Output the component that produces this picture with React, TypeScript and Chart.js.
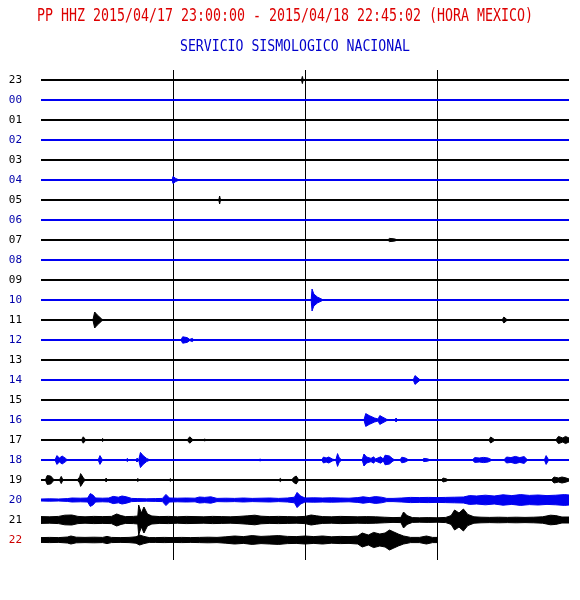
import React, { useEffect, useRef } from "react";
import { Chart, registerables } from "chart.js";

Chart.register(...registerables);

const TITLE_TEXT = "PP HHZ 2015/04/17 23:00:00 - 2015/04/18 22:45:02 (HORA MEXICO)";
const SUBTITLE_TEXT = "SERVICIO SISMOLOGICO NACIONAL";

const ROW_LABELS = ["23", "00", "01", "02", "03", "04", "05", "06", "07", "08", "09", "10", "11", "12", "13", "14", "15", "16", "17", "18", "19", "20", "21", "22"];
// minutes recorded in each hourly row
const ROW_END_MINUTES = [60, 60, 60, 60, 60, 60, 60, 60, 60, 60, 60, 60, 60, 60, 60, 60, 60, 60, 60, 60, 60, 60, 60, 45];
const X_TICKS_MINUTES = [0, 15, 30, 45, 60];

// envelope samples per row: [minute, amplitude in row units]
const TRACE_23: [number, number][] = [[29.6, 0], [29.7, 0.18], [29.8, 0]];
const TRACE_00: [number, number][] = [];
const TRACE_01: [number, number][] = [];
const TRACE_02: [number, number][] = [];
const TRACE_03: [number, number][] = [];
const TRACE_04: [number, number][] = [[14.9, 0], [15.0, 0.18], [15.3, 0.08], [15.7, 0]];
const TRACE_05: [number, number][] = [[20.2, 0], [20.3, 0.2], [20.4, 0]];
const TRACE_06: [number, number][] = [];
const TRACE_07: [number, number][] = [[39.4, 0], [39.6, 0.08], [40.1, 0.06], [40.6, 0]];
const TRACE_08: [number, number][] = [];
const TRACE_09: [number, number][] = [];
const TRACE_10: [number, number][] = [[30.7, 0], [30.8, 0.55], [31.0, 0.3], [31.4, 0.15], [32.1, 0]];
const TRACE_11: [number, number][] = [[5.9, 0], [6.1, 0.4], [6.4, 0.25], [6.9, 0.05], [7.1, 0], [52.4, 0], [52.6, 0.15], [53.0, 0]];
const TRACE_12: [number, number][] = [[15.9, 0], [16.1, 0.16], [16.6, 0.12], [16.9, 0.03], [17.2, 0.08], [17.4, 0]];
const TRACE_13: [number, number][] = [];
const TRACE_14: [number, number][] = [[42.3, 0], [42.5, 0.22], [43.1, 0]];
const TRACE_15: [number, number][] = [];
const TRACE_16: [number, number][] = [[36.7, 0], [36.9, 0.32], [37.3, 0.22], [37.9, 0.1], [38.3, 0.05], [38.5, 0.22], [38.8, 0.15], [39.3, 0.03], [40.2, 0], [40.35, 0.1], [40.5, 0]];
const TRACE_17: [number, number][] = [[4.6, 0], [4.8, 0.16], [5.1, 0], [6.9, 0], [7.0, 0.08], [7.1, 0], [16.6, 0], [16.9, 0.16], [17.3, 0], [18.5, 0], [18.6, 0.06], [18.7, 0], [50.9, 0], [51.1, 0.15], [51.6, 0], [58.5, 0], [58.8, 0.18], [59.3, 0.1], [59.6, 0.18], [60, 0.1]];
const TRACE_18: [number, number][] = [
  [1.6, 0], [1.8, 0.22], [2.1, 0.1], [2.4, 0.2], [2.8, 0.08], [3.0, 0],
  [6.5, 0], [6.7, 0.22], [7.0, 0],
  [9.7, 0], [9.8, 0.08], [10.0, 0], [10.8, 0], [10.9, 0.1], [11.1, 0],
  [11.3, 0.38], [11.6, 0.22], [12.0, 0.08], [12.4, 0],
  [24.8, 0], [24.9, 0.06], [25.0, 0],
  [31.9, 0], [32.1, 0.15], [32.4, 0.1], [32.7, 0.15], [33.1, 0.05], [33.5, 0], [33.7, 0.32], [33.9, 0.1], [34.2, 0],
  [36.5, 0], [36.7, 0.3], [37.0, 0.15], [37.5, 0.08], [37.8, 0.16], [38.0, 0.05], [38.6, 0.16], [38.9, 0.05], [39.1, 0.24], [39.6, 0.2], [40.0, 0.05], [40.3, 0],
  [40.8, 0], [41.0, 0.14], [41.4, 0.1], [41.8, 0],
  [43.3, 0], [43.5, 0.08], [43.9, 0.06], [44.3, 0],
  [49.0, 0], [49.3, 0.12], [49.8, 0.1], [50.3, 0.13], [50.8, 0.1], [51.3, 0],
  [52.6, 0], [52.9, 0.15], [53.4, 0.12], [53.9, 0.18], [54.4, 0.12], [54.9, 0.17], [55.3, 0],
  [57.2, 0], [57.4, 0.22], [57.7, 0],
];
const TRACE_19: [number, number][] = [
  [0.5, 0], [0.7, 0.22], [1.1, 0.2], [1.5, 0], [2.1, 0], [2.3, 0.18], [2.5, 0],
  [4.1, 0], [4.4, 0.15], [4.5, 0.32], [4.8, 0.12], [5.0, 0],
  [7.3, 0], [7.4, 0.1], [7.5, 0], [10.9, 0], [11.0, 0.08], [11.1, 0], [14.6, 0], [14.7, 0.07], [14.8, 0],
  [27.0, 0], [27.2, 0.08], [27.4, 0], [28.5, 0], [28.7, 0.12], [29.0, 0.2], [29.3, 0],
  [45.5, 0], [45.7, 0.1], [46.1, 0.05], [46.3, 0],
  [58.0, 0], [58.3, 0.15], [58.8, 0.1], [59.2, 0.15], [59.7, 0.1], [60, 0.05],
];
const TRACE_20: [number, number][] = [
  [0, 0.05], [1, 0.06], [2, 0.05], [3, 0.07], [3.5, 0.1], [4.5, 0.09], [5.3, 0.1], [5.6, 0.32], [5.9, 0.25], [6.2, 0.1],
  [7.0, 0.09], [7.7, 0.1], [8.2, 0.18], [8.8, 0.14], [9.2, 0.2], [9.7, 0.16], [10.3, 0.08], [11, 0.07], [12, 0.06], [13, 0.07],
  [13.8, 0.08], [14.2, 0.28], [14.6, 0.1], [15.5, 0.09], [16.5, 0.1], [17.5, 0.09], [18.0, 0.15], [18.6, 0.13], [19.3, 0.16], [20, 0.08],
  [21, 0.09], [22, 0.08], [23, 0.1], [24, 0.08], [25, 0.09], [26, 0.1], [27, 0.08], [28, 0.1], [28.8, 0.14], [29.1, 0.38],
  [29.5, 0.2], [30, 0.1], [31, 0.11], [32, 0.1], [33, 0.11], [34, 0.1], [35, 0.09], [36, 0.12], [36.6, 0.16], [37.3, 0.12],
  [38.0, 0.17], [38.7, 0.14], [39.3, 0.08], [40, 0.08], [41, 0.1], [42, 0.13], [43, 0.12], [44, 0.13], [45, 0.12], [46, 0.13],
  [47, 0.14], [48, 0.15], [48.7, 0.22], [49.5, 0.2], [50.5, 0.24], [51.5, 0.2], [52.5, 0.26], [53.5, 0.22], [54.5, 0.27], [55.5, 0.23],
  [56.5, 0.25], [57.5, 0.22], [58.5, 0.24], [59.5, 0.27], [60, 0.25],
];
const TRACE_21: [number, number][] = [
  [0, 0.17], [1, 0.16], [2, 0.18], [2.7, 0.24], [3.5, 0.25], [4.2, 0.18], [5, 0.16], [6, 0.18], [7, 0.17], [8, 0.18],
  [8.6, 0.3], [9.1, 0.22], [9.6, 0.17], [10.5, 0.18], [11.0, 0.2], [11.1, 0.75], [11.4, 0.35], [11.7, 0.65], [12.1, 0.3], [12.6, 0.2],
  [13.5, 0.17], [14.5, 0.18], [15.5, 0.16], [16.5, 0.18], [17.5, 0.17], [18.5, 0.16], [19.5, 0.18], [20.5, 0.17], [21.5, 0.16], [22.5, 0.18],
  [23.5, 0.21], [24.3, 0.24], [25, 0.19], [26, 0.17], [27, 0.18], [28, 0.17], [29, 0.16], [30, 0.18], [30.7, 0.25], [31.3, 0.21],
  [32, 0.17], [33, 0.16], [34, 0.18], [35, 0.17], [36, 0.16], [37, 0.17], [38, 0.16], [39, 0.14], [40, 0.12], [40.9, 0.13],
  [41.2, 0.4], [41.6, 0.22], [42.2, 0.12], [43, 0.11], [44, 0.12], [45, 0.11], [46, 0.13], [46.6, 0.22], [47.0, 0.5], [47.5, 0.35],
  [48.0, 0.55], [48.5, 0.28], [49.2, 0.16], [50, 0.14], [51, 0.13], [52, 0.14], [53, 0.13], [54, 0.14], [55, 0.13], [56, 0.14],
  [57, 0.16], [57.9, 0.24], [58.5, 0.22], [59.2, 0.15], [60, 0.15],
];
const TRACE_22: [number, number][] = [
  [0, 0.12], [1, 0.13], [2, 0.12], [3, 0.15], [3.4, 0.2], [4, 0.14], [5, 0.13], [6, 0.14], [7, 0.13], [7.5, 0.18],
  [8, 0.13], [9, 0.12], [10, 0.13], [10.8, 0.16], [11.2, 0.25], [11.7, 0.18], [12.3, 0.12], [13, 0.12], [14, 0.13], [15, 0.12],
  [16, 0.13], [17, 0.12], [18, 0.13], [19, 0.14], [20, 0.13], [21, 0.16], [22, 0.2], [23, 0.17], [24, 0.22], [25, 0.18],
  [26, 0.2], [27, 0.22], [28, 0.18], [29, 0.17], [30, 0.2], [31, 0.17], [32, 0.2], [33, 0.16], [34, 0.18], [35, 0.17],
  [36, 0.2], [36.5, 0.35], [37.2, 0.25], [37.8, 0.38], [38.5, 0.3], [39.1, 0.35], [39.6, 0.5], [40.1, 0.4], [40.6, 0.3], [41.2, 0.2],
  [42, 0.13], [43, 0.13], [43.8, 0.2], [44.5, 0.13], [45, 0.13],
];

const TRACES = [
  TRACE_23, TRACE_00, TRACE_01, TRACE_02, TRACE_03, TRACE_04, TRACE_05, TRACE_06,
  TRACE_07, TRACE_08, TRACE_09, TRACE_10, TRACE_11, TRACE_12, TRACE_13, TRACE_14,
  TRACE_15, TRACE_16, TRACE_17, TRACE_18, TRACE_19, TRACE_20, TRACE_21, TRACE_22,
];

// styles
const BLACK = "#000000";
const TRACE_BLUE = "#0000f0";
const LABEL_BLUE = "#0000aa";
const LABEL_RED = "#cc0000";
const TRACE_COLORS = ROW_LABELS.map((_, i) => (i === 23 ? BLACK : i % 2 === 0 ? BLACK : TRACE_BLUE));
const LABEL_COLORS = ROW_LABELS.map((_, i) => (i === 23 ? LABEL_RED : i % 2 === 0 ? BLACK : LABEL_BLUE));

const headerPlugin = {
  id: "seismoHeader",
  afterDraw(chart: any) {
    const ctx = chart.ctx;
    const items = [
      { text: TITLE_TEXT, cx: 285, cy: 17, w: 496, size: 17, color: "#dd0000" },
      { text: SUBTITLE_TEXT, cx: 295, cy: 47, w: 230, size: 16, color: "#0000cc" },
    ];
    items.forEach((it) => {
      ctx.save();
      ctx.font = `${it.size}px "DejaVu Sans Mono"`;
      ctx.fillStyle = it.color;
      ctx.textAlign = "center";
      ctx.textBaseline = "middle";
      const m = ctx.measureText(it.text).width;
      ctx.translate(it.cx, it.cy);
      ctx.scale(it.w / m, 1);
      ctx.fillText(it.text, 0, 0);
      ctx.restore();
    });
  },
};

export default function App() {
  const ref = useRef<HTMLCanvasElement | null>(null);

  useEffect(() => {
    if (!ref.current) return;
    const datasets: any[] = [];
    TRACES.forEach((trace, i) => {
      const end = ROW_END_MINUTES[i];
      const pts: [number, number][] = [[0, 0], ...trace, [end, 0]];
      const color = TRACE_COLORS[i];
      datasets.push({
        data: [{ x: 0, y: i }, { x: end, y: i }],
        borderColor: color,
        borderWidth: 2,
        pointRadius: 0,
        fill: false,
      });
      datasets.push({
        data: pts.map(([m, a]) => ({ x: m, y: i - a })),
        borderColor: color,
        backgroundColor: color,
        borderWidth: 1,
        pointRadius: 0,
        fill: { value: i },
      });
      datasets.push({
        data: pts.map(([m, a]) => ({ x: m, y: i + a })),
        borderColor: color,
        backgroundColor: color,
        borderWidth: 1,
        pointRadius: 0,
        fill: { value: i },
      });
    });

    const chart = new Chart(ref.current, {
      type: "line",
      data: { datasets },
      plugins: [headerPlugin],
      options: {
        animation: false,
        responsive: false,
        devicePixelRatio: 1,
        layout: { padding: { top: 70, right: 11, bottom: 40, left: 0 } },
        elements: { line: { tension: 0 } },
        plugins: {
          legend: { display: false },
          tooltip: { enabled: false },
          title: { display: false },
        },
        scales: {
          x: {
            type: "linear",
            min: 0,
            max: 60,
            afterBuildTicks: (s: any) => {
              s.ticks = X_TICKS_MINUTES.map((v) => ({ value: v }));
            },
            ticks: { display: false },
            grid: {
              drawTicks: false,
              lineWidth: 1,
              color: (c: any) =>
                c.tick && c.tick.value > 0 && c.tick.value < 60 ? BLACK : "rgba(0,0,0,0)",
            },
            border: { display: false },
            afterFit: (s: any) => {
              s.height = 0;
            },
          },
          y: {
            type: "linear",
            reverse: true,
            min: -0.5,
            max: 24,
            afterBuildTicks: (s: any) => {
              s.ticks = ROW_LABELS.map((_, i) => ({ value: i }));
            },
            ticks: {
              autoSkip: false,
              padding: 19,
              color: (c: any) => LABEL_COLORS[c.index] || BLACK,
              font: { family: "DejaVu Sans Mono", size: 11 },
              callback: (v: any) => ROW_LABELS[Number(v)] ?? "",
            },
            grid: { display: false, drawTicks: false },
            border: { display: false },
            afterFit: (s: any) => {
              s.width = 41;
            },
          },
        },
      },
    });
    return () => chart.destroy();
  }, []);

  return (
    <div style={{ position: "absolute", left: 0, top: 0, width: 580, height: 600, background: "#fff" }}>
      <canvas ref={ref} width={580} height={600} style={{ display: "block", width: 580, height: 600 }} />
    </div>
  );
}
